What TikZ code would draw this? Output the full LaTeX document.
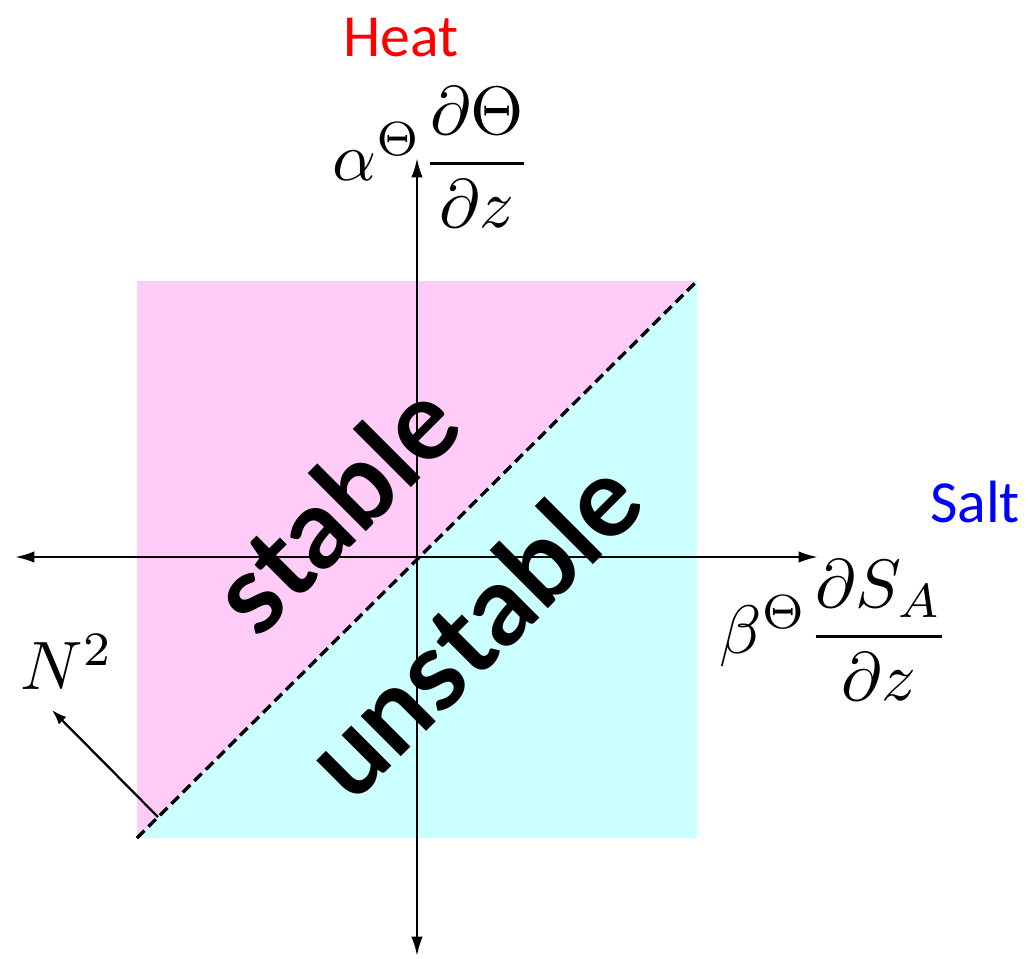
\documentclass[tikz,border=0pt]{standalone}
\usepackage{fontspec}
\usepackage{amsmath}
\usepackage{graphicx}
\usetikzlibrary{arrows.meta}
\newfontfamily\calib{Carlito}
\newfontfamily\wordfont{Lato}
\definecolor{pinkfill}{RGB}{255,204,247}
\definecolor{cyanfill}{RGB}{204,255,255}
\newcommand{\bigmath}[1]{\scalebox{3.9}{\normalsize #1}}
\begin{document}
\begin{tikzpicture}[x=0.02cm,y=-0.02cm,
  axis/.style={line width=1.4pt,-{Latex[length=11pt,width=6.5pt]}},
  ptr/.style={line width=1.3pt,-{Latex[length=8.5pt,width=6pt]}},
  divider/.style={line width=1.9pt,dash pattern=on 6pt off 3.2pt},
  mathlbl/.style={inner sep=0pt},
  wordlbl/.style={inner sep=0pt,font=\calib\fontsize{34}{40}\selectfont},
  region/.style={inner sep=0pt,rotate=45,font=\wordfont\bfseries\fontsize{63}{68}\selectfont}]
\useasboundingbox (0,0) rectangle (1028,958);
% regions
\coordinate (sqTL) at (137,281);
\coordinate (sqTR) at (697,281);
\coordinate (sqBL) at (137,838);
\coordinate (sqBR) at (697,838);
\fill[pinkfill] (sqBL) -- (sqTL) -- (sqTR) -- cycle;
\fill[cyanfill] (sqBL) -- (sqTR) -- (sqBR) -- cycle;
% axes
\coordinate (o) at (417,557);
\coordinate (top) at (417,158);
\coordinate (bot) at (417,956);
\coordinate (left) at (15,557);
\coordinate (right) at (818,557);
\draw[axis] (o) -- (top);
\draw[axis] (o) -- (bot);
\draw[axis] (o) -- (left);
\draw[axis] (o) -- (right);
% divider
\draw[divider] (sqBL) -- (sqTR);
% N^2 pointer
\coordinate (nstart) at (158,817);
\coordinate (ntip) at (52,710);
\draw[ptr] (nstart) -- (ntip);
% labels
\node[mathlbl] (ylab) at (432,157) {\bigmath{$\alpha^{\Theta}\dfrac{\partial\Theta}{\partial z}$}};
\node[mathlbl] (xlab) at (835,630) {\bigmath{$\beta^{\Theta}\dfrac{\partial S_A}{\partial z}$}};
\node[mathlbl] (nlab) at (67,662) {\bigmath{$N^2$}};
\node[wordlbl,text=red] (heat) at (401,38) {Heat};
\node[wordlbl,text=blue] (salt) at (975,502) {Salt};
\node[region] (stable) at (334,507) {stable};
\node[region] (unstable) at (472,628) {unstable};
\end{tikzpicture}
\end{document}
